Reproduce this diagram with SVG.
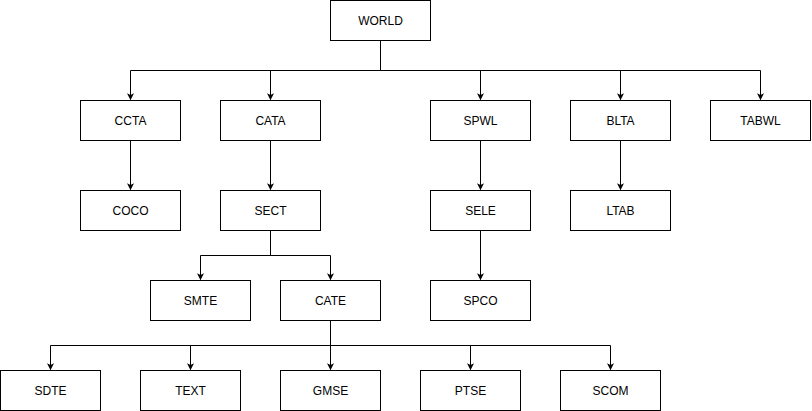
<svg xmlns="http://www.w3.org/2000/svg" width="812" height="411" viewBox="0 0 812 411">
<defs>
<marker id="arr" viewBox="0 0 10 10" refX="9" refY="5" markerWidth="7" markerHeight="7" markerUnits="userSpaceOnUse" orient="auto">
<path d="M0,0 L10,5 L0,10 L2.5,5 Z" fill="#000"/>
</marker>
<style>
.n rect{fill:#fff;stroke:#000;stroke-width:1}
.n text{font-family:"Liberation Sans",Arial,sans-serif;font-size:12px;fill:#000;text-anchor:middle;dominant-baseline:central}
.c path{fill:none;stroke:#000;stroke-width:1;marker-end:url(#arr)}
</style>
</defs>
<rect width="812" height="411" fill="#fff"/>
<g class="c">
<path d="M380.5,40.5 V70.5 H130.5 V99.5"/>
<path d="M380.5,40.5 V70.5 H270.5 V99.5"/>
<path d="M380.5,40.5 V70.5 H480.5 V99.5"/>
<path d="M380.5,40.5 V70.5 H620.5 V99.5"/>
<path d="M380.5,40.5 V70.5 H760.5 V99.5"/>
<path d="M130.5,140.5 V189.5"/>
<path d="M270.5,140.5 V189.5"/>
<path d="M480.5,140.5 V189.5"/>
<path d="M620.5,140.5 V189.5"/>
<path d="M270.5,230.5 V255.5 H200.5 V279.5"/>
<path d="M270.5,230.5 V255.5 H330.5 V279.5"/>
<path d="M480.5,230.5 V279.5"/>
<path d="M330.5,320.5 V345.5 H50.5 V369.5"/>
<path d="M330.5,320.5 V345.5 H190.5 V369.5"/>
<path d="M330.5,320.5 V369.5"/>
<path d="M330.5,320.5 V345.5 H470.5 V369.5"/>
<path d="M330.5,320.5 V345.5 H610.5 V369.5"/>
</g>
<g id="WORLD" class="n"><rect x="330.5" y="0.5" width="100" height="40"/><text x="380.5" y="20.5">WORLD</text></g>
<g id="CCTA" class="n"><rect x="80.5" y="100.5" width="100" height="40"/><text x="130.5" y="120.5">CCTA</text></g>
<g id="CATA" class="n"><rect x="220.5" y="100.5" width="100" height="40"/><text x="270.5" y="120.5">CATA</text></g>
<g id="SPWL" class="n"><rect x="430.5" y="100.5" width="100" height="40"/><text x="480.5" y="120.5">SPWL</text></g>
<g id="BLTA" class="n"><rect x="570.5" y="100.5" width="100" height="40"/><text x="620.5" y="120.5">BLTA</text></g>
<g id="TABWL" class="n"><rect x="710.5" y="100.5" width="100" height="40"/><text x="760.5" y="120.5">TABWL</text></g>
<g id="COCO" class="n"><rect x="80.5" y="190.5" width="100" height="40"/><text x="130.5" y="210.5">COCO</text></g>
<g id="SECT" class="n"><rect x="220.5" y="190.5" width="100" height="40"/><text x="270.5" y="210.5">SECT</text></g>
<g id="SELE" class="n"><rect x="430.5" y="190.5" width="100" height="40"/><text x="480.5" y="210.5">SELE</text></g>
<g id="LTAB" class="n"><rect x="570.5" y="190.5" width="100" height="40"/><text x="620.5" y="210.5">LTAB</text></g>
<g id="SMTE" class="n"><rect x="150.5" y="280.5" width="100" height="40"/><text x="200.5" y="300.5">SMTE</text></g>
<g id="CATE" class="n"><rect x="280.5" y="280.5" width="100" height="40"/><text x="330.5" y="300.5">CATE</text></g>
<g id="SPCO" class="n"><rect x="430.5" y="280.5" width="100" height="40"/><text x="480.5" y="300.5">SPCO</text></g>
<g id="SDTE" class="n"><rect x="0.5" y="370.5" width="100" height="40"/><text x="50.5" y="390.5">SDTE</text></g>
<g id="TEXT" class="n"><rect x="140.5" y="370.5" width="100" height="40"/><text x="190.5" y="390.5">TEXT</text></g>
<g id="GMSE" class="n"><rect x="280.5" y="370.5" width="100" height="40"/><text x="330.5" y="390.5">GMSE</text></g>
<g id="PTSE" class="n"><rect x="420.5" y="370.5" width="100" height="40"/><text x="470.5" y="390.5">PTSE</text></g>
<g id="SCOM" class="n"><rect x="560.5" y="370.5" width="100" height="40"/><text x="610.5" y="390.5">SCOM</text></g>
</svg>
